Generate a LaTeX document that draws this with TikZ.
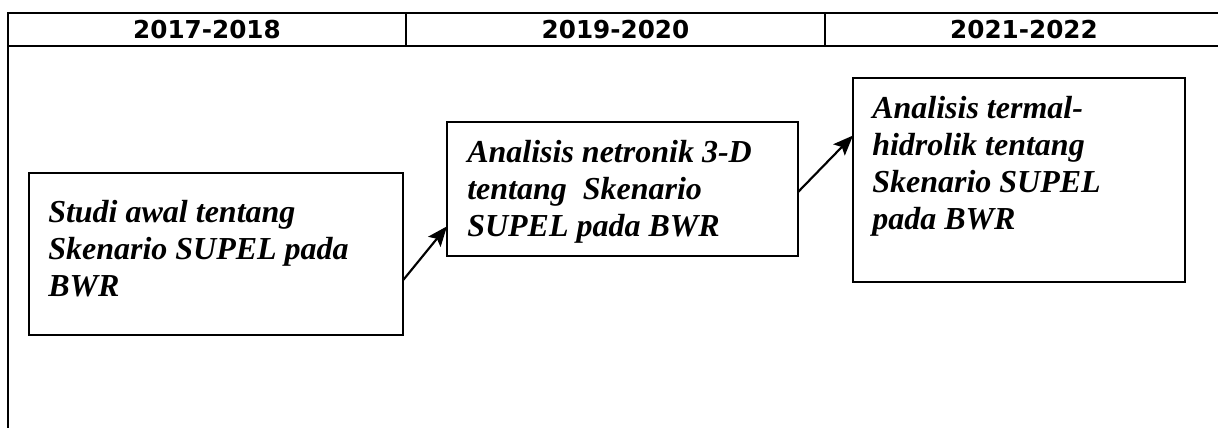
\documentclass[tikz,border=0pt]{standalone}
\usepackage{fontspec}
\setmainfont{Liberation Serif}
\newfontfamily\headfont{DejaVu Sans}
\usetikzlibrary{arrows.meta, positioning}
\tikzstyle{yearcell} = [rectangle, minimum height=24.75pt, inner sep=0pt, outer sep=0pt, text centered, draw=black, line width=2pt, font=\headfont\bfseries\fontsize{18.5}{21}\selectfont]
\tikzstyle{panel} = [rectangle, anchor=north west, inner sep=0pt, outer sep=0pt, draw=black, line width=1.7pt]
\tikzstyle{paneltext} = [inner sep=0pt, align=left, font=\bfseries\itshape\fontsize{24}{27.75}\selectfont]
\tikzstyle{arrow} = [line width=1.6pt,-{Stealth[length=15pt,width=12pt,inset=3pt]}]

\begin{document}
\begin{tikzpicture}[x=0.75pt, y=-0.75pt]
    \useasboundingbox (0,0) rectangle (1218,428);

    % header row
    \node (y1) [yearcell, minimum width=298.5pt, anchor=north west] at (8,13) {2017-2018};
    \node (y2) [yearcell, minimum width=314.25pt, right=0pt of y1] {2019-2020};
    \node (y3) [yearcell, minimum width=298.5pt, right=0pt of y2] {2021-2022};
    \draw [line width=2pt] (y1.south west) -- ++(0,382);

    % stages
    \node (studi) [panel, minimum width=280.5pt, minimum height=121.5pt] at (29,173) {};
    \node (netronik) [panel, minimum width=263.25pt, minimum height=100.5pt] at (447,122) {};
    \node (termal) [panel, minimum width=249pt, minimum height=153pt] at (853,78) {};

    \node (studitext) [paneltext, below right=20pt and 14.25pt of studi.north west] {Studi awal tentang\\Skenario SUPEL pada\\BWR};
    \node (netroniktext) [paneltext, below right=13.5pt and 15pt of netronik.north west] {Analisis netronik 3-D\\tentang~ Skenario\\SUPEL pada BWR};
    \node (termaltext) [paneltext, below right=13.5pt and 14.25pt of termal.north west] {Analisis termal-\\hidrolik tentang\\Skenario SUPEL\\pada BWR};

    \draw [arrow] (studi.-8) -- (netronik.-168);
    \draw [arrow] (netronik.-1) -- (termal.165);

\end{tikzpicture}
\end{document}
